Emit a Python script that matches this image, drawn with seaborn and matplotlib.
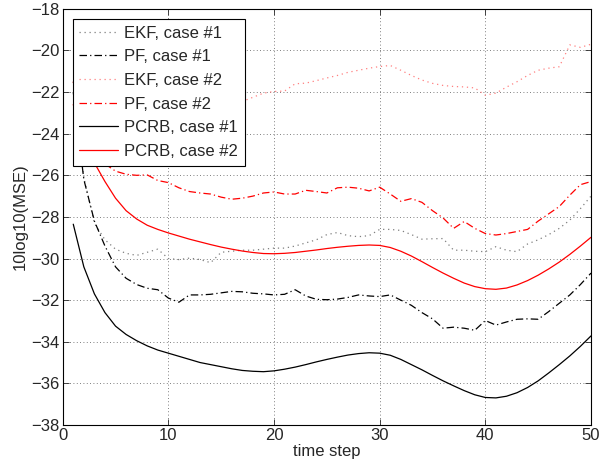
import numpy as np
import pandas as pd
import seaborn as sns
import matplotlib
matplotlib.use('Agg')
import matplotlib.pyplot as plt

steps = list(range(1, 51))

ekf_case1 = [-21.5, -26.1, -28.3, -29.1, -29.55, -29.75, -29.85, -29.7, -29.55, -30.0,
             -30.05, -29.98, -30.05, -30.2, -29.7, -29.65, -29.6, -29.6, -29.55, -29.5,
             -29.5, -29.4, -29.25, -29.1, -28.85, -28.75, -28.9, -28.95, -28.9, -28.6,
             -28.6, -28.65, -28.85, -29.07, -29.05, -29.04, -29.6, -29.6, -29.65, -29.67,
             -29.43, -29.6, -29.67, -29.3, -29.1, -28.85, -28.55, -28.15, -27.6, -27.0]

pf_case1 = [-22.0, -26.2, -28.2, -29.4, -30.4, -30.95, -31.25, -31.43, -31.5, -31.9,
            -32.1, -31.75, -31.75, -31.72, -31.65, -31.58, -31.6, -31.67, -31.7, -31.75,
            -31.72, -31.5, -31.8, -31.96, -31.98, -31.95, -31.87, -31.75, -31.8, -31.83,
            -31.75, -32.0, -32.25, -32.6, -32.9, -33.35, -33.3, -33.35, -33.45, -32.98,
            -33.2, -33.05, -32.92, -32.9, -32.92, -32.55, -32.15, -31.75, -31.25, -30.7]

ekf_case2 = [-18.5, -20.0, -21.0, -21.6, -22.0, -22.2, -22.4, -22.5, -22.6, -22.6,
             -22.65, -22.6, -22.7, -22.6, -22.55, -22.5, -22.45, -22.25, -22.05, -21.97,
             -21.95, -21.6, -21.57, -21.45, -21.32, -21.2, -21.05, -20.95, -20.85, -20.77,
             -20.72, -20.95, -21.2, -21.42, -21.58, -21.68, -21.73, -21.75, -21.8, -22.15,
             -22.05, -21.76, -21.5, -21.2, -20.95, -20.85, -20.78, -19.73, -19.85, -19.7]

pf_case2 = [-21.5, -23.8, -25.0, -25.45, -25.8, -25.95, -26.0, -25.98, -26.25, -26.35,
            -26.6, -26.78, -26.85, -26.9, -27.05, -27.15, -27.1, -27.0, -26.85, -26.8,
            -26.9, -26.9, -26.72, -26.78, -26.85, -26.6, -26.57, -26.62, -26.75, -26.57,
            -26.9, -27.25, -27.12, -27.3, -27.7, -28.05, -28.55, -28.22, -28.55, -28.8,
            -28.87, -28.8, -28.7, -28.6, -28.2, -27.85, -27.5, -26.95, -26.45, -26.3]

pcrb_case1 = [-28.35, -30.4, -31.7, -32.6, -33.25, -33.65, -33.95, -34.2, -34.4, -34.55,
              -34.7, -34.85, -35.0, -35.1, -35.2, -35.3, -35.38, -35.42, -35.44, -35.4,
              -35.32, -35.22, -35.1, -34.97, -34.85, -34.74, -34.64, -34.57, -34.53, -34.55,
              -34.65, -34.85, -35.1, -35.35, -35.62, -35.88, -36.12, -36.35, -36.55, -36.68,
              -36.7, -36.62, -36.45, -36.2, -35.88, -35.5, -35.1, -34.68, -34.22, -33.72]

pcrb_case2 = [-22.6, -24.3, -25.4, -26.3, -27.1, -27.7, -28.1, -28.4, -28.6, -28.77,
              -28.92, -29.07, -29.2, -29.33, -29.45, -29.55, -29.64, -29.71, -29.76, -29.77,
              -29.75, -29.71, -29.65, -29.59, -29.52, -29.46, -29.41, -29.37, -29.35, -29.37,
              -29.47, -29.65, -29.88, -30.15, -30.43, -30.7, -30.95, -31.18, -31.35, -31.45,
              -31.48, -31.42, -31.27, -31.06, -30.8, -30.5, -30.17, -29.8, -29.4, -28.98]

x_ticks = [0, 10, 20, 30, 40, 50]
y_ticks = [-38, -36, -34, -32, -30, -28, -26, -24, -22, -20, -18]

sns.set_style('ticks')
plt.rcParams['font.family'] = ['Liberation Sans', 'DejaVu Sans']
plt.rcParams['xtick.direction'] = 'in'
plt.rcParams['ytick.direction'] = 'in'

fig = plt.figure(figsize=(6, 4.68), dpi=100)
ax = fig.add_axes([0.1045, 0.092, 0.8805, 0.889])

dashdot = (0, (6, 2.5, 1, 2.5))
dotted = (0, (1, 3))
series = [
    ('EKF, case #1', ekf_case1, '#7f7f7f', dotted),
    ('PF, case #1', pf_case1, 'black', dashdot),
    ('EKF, case #2', ekf_case2, '#ff8080', dotted),
    ('PF, case #2', pf_case2, '#ff0000', dashdot),
    ('PCRB, case #1', pcrb_case1, 'black', '-'),
    ('PCRB, case #2', pcrb_case2, '#ff0000', '-'),
]
for name, vals, col, ls in series:
    df = pd.DataFrame({'step': steps, 'mse': vals})
    sns.lineplot(data=df, x='step', y='mse', ax=ax, color=col, linestyle=ls, lw=0.9, label=name)

ax.set_xlim(0, 50)
ax.set_ylim(-38, -18)
ax.set_xticks(x_ticks)
ax.set_yticks(y_ticks)
ax.grid(True, linestyle=(0, (1, 3)), color='#555555', lw=0.6)
ax.tick_params(labelsize=12, top=True, right=True, length=4, width=0.6, pad=2)
for sp in ax.spines.values():
    sp.set_linewidth(0.8)
    sp.set_color('black')
ax.set_xlabel('time step', fontsize=12, labelpad=1)
ax.set_ylabel('10log10(MSE)', fontsize=12, labelpad=3)

leg = ax.legend(loc='upper left', fontsize=12, fancybox=False, framealpha=1,
                edgecolor='black', handlelength=2.3, handletextpad=0.4,
                labelspacing=0.52, borderaxespad=0.6, borderpad=0.4)
leg.get_frame().set_linewidth(0.8)

fig.savefig('out.png', dpi=100)
